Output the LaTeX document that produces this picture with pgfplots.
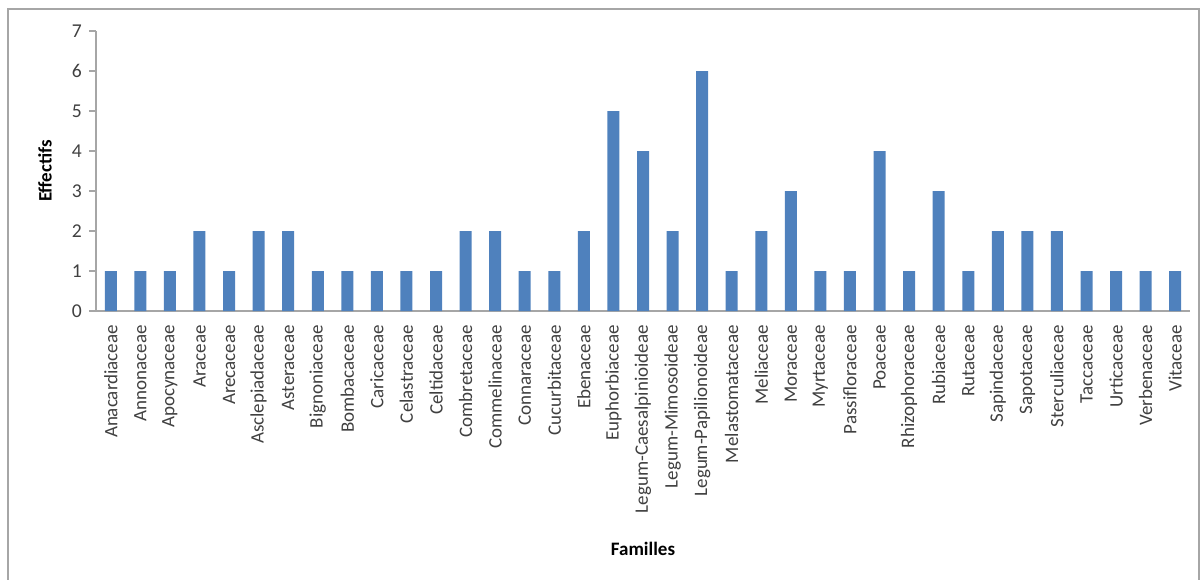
\documentclass[border=0pt]{standalone}
\usepackage{fontspec}
\setmainfont{Carlito}
\usepackage{pgfplots}
\pgfplotsset{compat=1.18}
\definecolor{barblue}{HTML}{4F81BD}
\definecolor{axgray}{HTML}{A6A6A6}
\definecolor{txt}{HTML}{404040}
\begin{document}
\begin{tikzpicture}
\useasboundingbox (0,0) rectangle (601.5pt,289.5pt);
\clip (0,0) rectangle (601.5pt,289.5pt);
\draw[axgray, line width=0.8pt] (4pt,-3pt) rectangle (599.5pt,285pt);
\begin{axis}[
  at={(48pt,134pt)}, anchor=south west,
  scale only axis, width=547pt, height=140pt,
  ybar, bar width=6pt,
  xmin=-0.5, xmax=36.5, ymin=0, ymax=7,
  ytick={0,1,...,7},
  xtick={0,1,...,36},
  xticklabels={Anacardiaceae,Annonaceae,Apocynaceae,Araceae,Arecaceae,Asclepiadaceae,Asteraceae,Bignoniaceae,Bombacaceae,Caricaceae,Celastraceae,Celtidaceae,Combretaceae,Commelinaceae,Connaraceae,Cucurbitaceae,Ebenaceae,Euphorbiaceae,Legum-Caesalpinioideae,Legum-Mimosoideae,Legum-Papilionoideae,Melastomataceae,Meliaceae,Moraceae,Myrtaceae,Passifloraceae,Poaceae,Rhizophoraceae,Rubiaceae,Rutaceae,Sapindaceae,Sapotaceae,Sterculiaceae,Taccaceae,Urticaceae,Verbenaceae,Vitaceae},
  x tick label style={rotate=90, anchor=east, font=\fontsize{9.5}{11}\selectfont, text=txt},
  y tick label style={font=\fontsize{9.8}{11}\selectfont, text=txt},
  /pgf/number format/assume math mode=true,
  axis x line*=bottom, axis y line*=left,
  axis line style={axgray, line width=0.7pt},
  x axis line style={-}, y axis line style={-},
  xtick style={draw=none},
  ytick style={axgray, line width=0.7pt},
  tick align=outside, major tick length=3.5pt,
  ylabel={\textbf{Effectifs}}, xlabel={\textbf{Familles}},
  every axis y label/.style={at={(axis description cs:0,0.5)}, xshift=-25.5pt, rotate=90, anchor=center, font=\fontsize{9.5}{11}\selectfont},
  every axis x label/.style={at={(axis description cs:0.5,0)}, yshift=-119pt, anchor=center, font=\fontsize{9.5}{11}\selectfont},
  enlarge x limits=false,
]
\addplot[fill=barblue, draw=none] coordinates {
(0,1) (1,1) (2,1) (3,2) (4,1) (5,2) (6,2) (7,1) (8,1) (9,1)
(10,1) (11,1) (12,2) (13,2) (14,1) (15,1) (16,2) (17,5) (18,4) (19,2)
(20,6) (21,1) (22,2) (23,3) (24,1) (25,1) (26,4) (27,1) (28,3) (29,1)
(30,2) (31,2) (32,2) (33,1) (34,1) (35,1) (36,1)};
\end{axis}
\end{tikzpicture}
\end{document}
